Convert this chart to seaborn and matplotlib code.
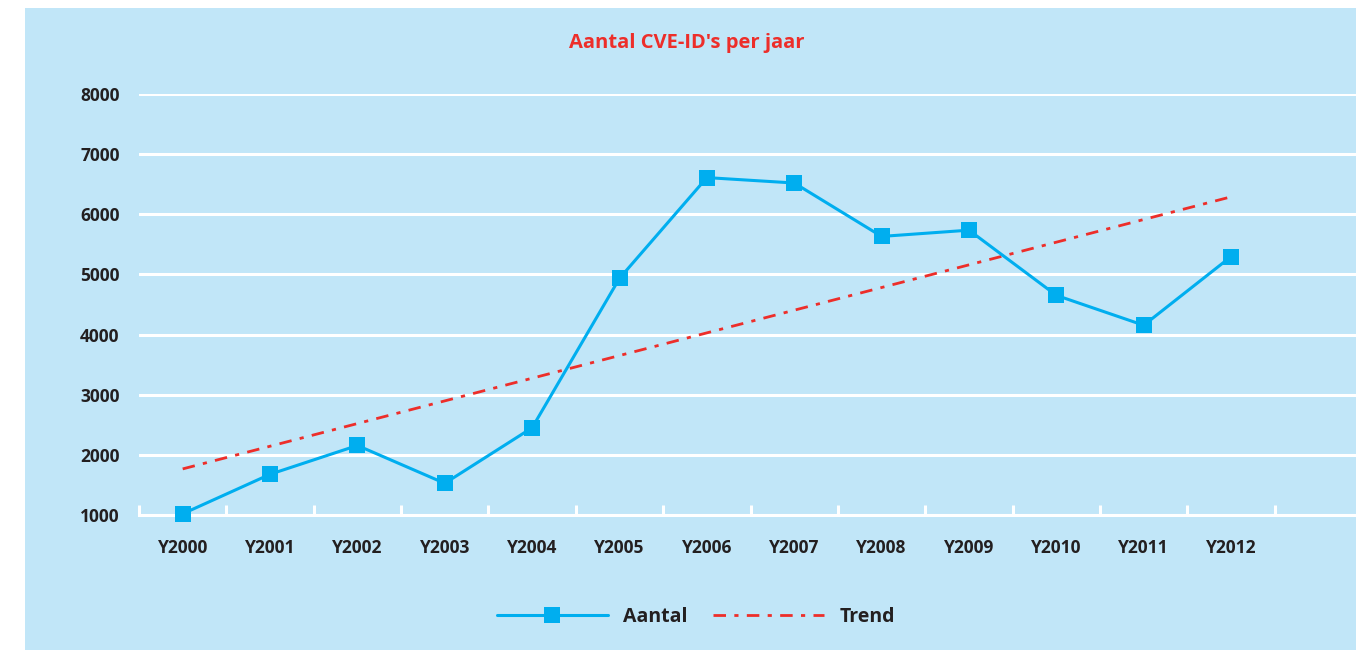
import matplotlib.pyplot as plt
import numpy as np
import pandas as pd
import seaborn as sns
from matplotlib.lines import Line2D
from matplotlib.patches import Rectangle

# Data
years = ["Y2000", "Y2001", "Y2002", "Y2003", "Y2004", "Y2005", "Y2006",
         "Y2007", "Y2008", "Y2009", "Y2010", "Y2011", "Y2012"]
aantal = [1020, 1677, 2156, 1527, 2451, 4935, 6610, 6520, 5632, 5736, 4652, 4155, 5297]
y_ticks = [1000, 2000, 3000, 4000, 5000, 6000, 7000, 8000]

df = pd.DataFrame({"pos": np.arange(len(years)), "jaar": years, "aantal": aantal})

# linear trend line (least squares fit of the counts)
coef = np.polyfit(df["pos"], df["aantal"], 1)
df["trend"] = np.polyval(coef, df["pos"])

sns.set_theme(style="white")
plt.rcParams["font.family"] = ["Open Sans", "DejaVu Sans"]

panel = "#c1e6f8"
blue = "#00aeef"
red = "#ed2e2a"
dark = "#231f20"

fig = plt.figure(figsize=(13.67, 6.52), dpi=100)
fig.patch.set_facecolor("white")
### light blue panel behind everything
fig.patches.append(Rectangle((25 / 1367, 2 / 652), 1331 / 1367, 642 / 652,
                             transform=fig.transFigure, facecolor=panel,
                             edgecolor="none", zorder=-10))

ax = fig.add_axes([139 / 1367, 1 - 515 / 652, (1356 - 139) / 1367, (515 - 94) / 652])
ax.set_zorder(1)
ax.set_facecolor("none")

sns.lineplot(data=df, x="pos", y="aantal", ax=ax, color=blue, linewidth=2.2,
             marker="s", markersize=12, markeredgewidth=0, clip_on=False, zorder=4)
ax.plot(df["pos"], df["trend"], color=red, linewidth=2,
        dashes=(4.5, 3, 1.5, 3), zorder=3)

ax.set_xlim(-0.5, 13.43)
ax.set_ylim(1000, 8000)
ax.set_yticks(y_ticks)
ax.set_xticks(df["pos"])
ax.set_xticklabels(years)
ax.set_xticks(np.arange(-0.5, len(years)), minor=True)

ax.grid(axis="y", color="white", linewidth=2.2)
ax.set_axisbelow(True)
for s in ["top", "right", "left"]:
    ax.spines[s].set_visible(False)
ax.spines["bottom"].set_color("white")
ax.spines["bottom"].set_linewidth(2.2)

ax.tick_params(axis="x", which="major", length=0, pad=17, labelsize=12.5,
               labelcolor=dark)
ax.tick_params(axis="x", which="minor", bottom=True, direction="in", length=7.5,
               width=2.2, color="white")
ax.tick_params(axis="y", length=0, pad=14, labelsize=12.5, labelcolor=dark)
for lbl in ax.get_xticklabels() + ax.get_yticklabels():
    lbl.set_fontweight("bold")

ax.set_xlabel("")
ax.set_ylabel("")

fig.text(687 / 1367, 1 - 43 / 652, "Aantal CVE-ID's per jaar", color=red,
         fontsize=14.5, fontweight="bold", ha="center", va="center")

handles = [
    Line2D([], [], color=blue, linewidth=2.2, marker="s", markersize=12,
           markeredgewidth=0),
    Line2D([], [], color=red, linewidth=2, dashes=(4.5, 3, 1.5, 3)),
]
fig.legend(handles, ["Aantal", "Trend"], loc="center",
           bbox_to_anchor=(696 / 1367, 1 - 617 / 652), ncol=2, frameon=False,
           handlelength=5.7, columnspacing=1.3, handletextpad=0.8,
           prop={"size": 14, "weight": "bold"}, labelcolor=dark)

fig.savefig("out.png", dpi=100, facecolor=fig.get_facecolor())
